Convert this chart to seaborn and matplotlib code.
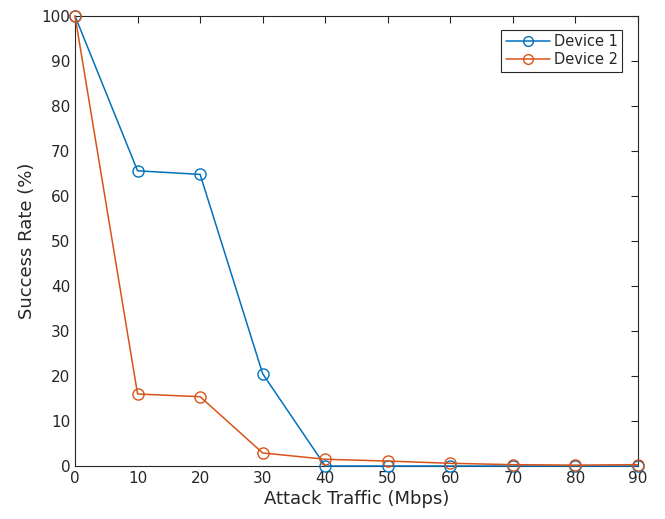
import matplotlib
matplotlib.use("Agg")
import matplotlib.pyplot as plt
import numpy as np
import pandas as pd
import seaborn as sns

sns.set_style("white")
plt.rcParams['font.family'] = ['DejaVu Sans']

# Data
traffic = [0, 10, 20, 30, 40, 50, 60, 70, 80, 90]
device1 = [100, 65.6, 64.8, 20.5, 0, 0, 0, 0, 0, 0]
device2 = [100, 16.0, 15.4, 2.9, 1.5, 1.1, 0.6, 0.3, 0.2, 0.3]
series_names = ["Device 1", "Device 2"]
y_ticks = np.arange(0, 101, 10)
x_ticks = np.arange(0, 91, 10)

df = pd.DataFrame({
    "traffic": traffic * 2,
    "rate": device1 + device2,
    "device": [series_names[0]] * len(traffic) + [series_names[1]] * len(traffic),
})

palette = {"Device 1": "#0072BD", "Device 2": "#D95319"}

fig = plt.figure(figsize=(6.65, 5.19), dpi=100)
ax = fig.add_axes([0.1128, 0.1021, 0.8466, 0.8671])

for name in series_names:
    sub = df[df["device"] == name]
    sns.lineplot(data=sub, x="traffic", y="rate", color=palette[name],
                 marker="o", markersize=8, markerfacecolor="none",
                 markeredgecolor=palette[name], markeredgewidth=1.0,
                 linewidth=1.1, ax=ax, label=name, clip_on=False, zorder=3)

ax.set_xlim(0, 90)
ax.set_ylim(0, 100)
ax.set_xticks(x_ticks)
ax.set_yticks(y_ticks)
ax.tick_params(direction="in", top=True, right=True, length=5, width=0.8,
               labelsize=11, colors="#262626")
ax.set_xlabel("Attack Traffic (Mbps)", fontsize=13, color="#262626", labelpad=3)
ax.set_ylabel("Success Rate (%)", fontsize=13, color="#262626")

for spine in ax.spines.values():
    spine.set_visible(True)
    spine.set_edgecolor("#262626")
    spine.set_linewidth(0.8)

handles = [plt.Line2D([], [], color=palette[n], marker="o", markersize=7,
                      markerfacecolor="none", linewidth=1.1) for n in series_names]
leg = ax.legend(handles, series_names, loc="upper right", fontsize=10.5,
                fancybox=False, framealpha=1, edgecolor="#262626",
                handlelength=3.0, borderpad=0.3, labelspacing=0.2,
                handletextpad=0.3, bbox_to_anchor=(0.985, 0.985))
leg.get_frame().set_linewidth(0.8)

fig.savefig("out.png", dpi=100)
